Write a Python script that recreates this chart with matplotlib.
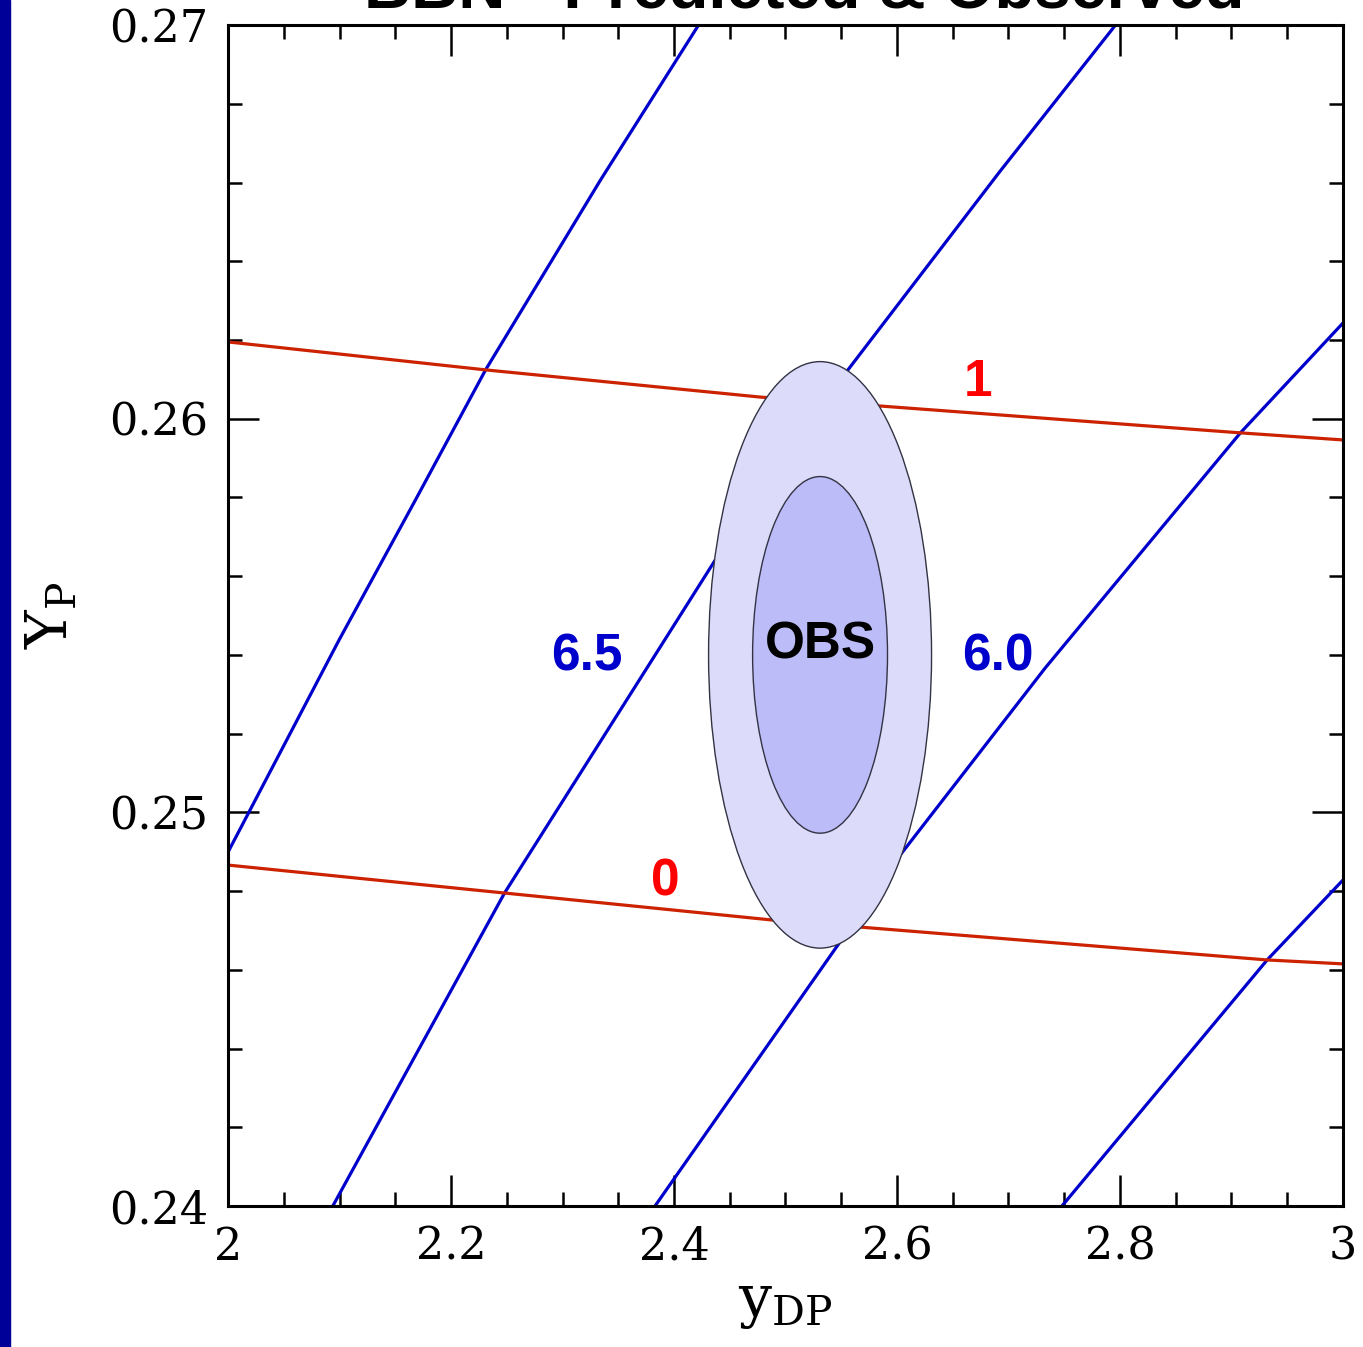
import matplotlib.pyplot as plt
from matplotlib.patches import Ellipse, Rectangle
from matplotlib.ticker import MultipleLocator

plt.rcParams['mathtext.fontset'] = 'custom'
plt.rcParams['mathtext.rm'] = 'DejaVu Serif'

# eta_10 curves (blue)
eta65_a_x = [2.000, 2.100, 2.168, 2.231, 2.334, 2.422]
eta65_a_y = [0.24899, 0.25440, 0.25793, 0.26124, 0.26606, 0.27000]
eta65_x = [2.094, 2.248, 2.437, 2.556, 2.692, 2.796]
eta65_y = [0.24000, 0.24795, 0.25641, 0.26124, 0.26627, 0.27000]
eta60_x = [2.383, 2.547, 2.603, 2.733, 2.908, 3.000]
eta60_y = [0.24000, 0.24663, 0.24892, 0.25367, 0.25964, 0.26243]
eta60_b_x = [2.748, 2.932, 3.000]
eta60_b_y = [0.24000, 0.24625, 0.24828]

# Delta N_nu curves (red)
dn1_x = [2.000, 2.231, 2.477, 2.908, 3.000]
dn1_y = [0.26195, 0.26124, 0.26055, 0.25964, 0.25946]
dn0_x = [2.000, 2.248, 2.486, 2.932, 3.000]
dn0_y = [0.24866, 0.24795, 0.24727, 0.24625, 0.24615]

# observed region
obs_x, obs_y = 2.531, 0.2540
obs_w = [0.200, 0.121]
obs_h = [0.0149, 0.00906]

fig = plt.figure(figsize=(13.63, 13.47), dpi=100)
fig.patches.append(Rectangle((0, 0), 10 / 1363, 1, transform=fig.transFigure,
                             color='#000099', zorder=0))
fig.text(0.59, 1 - 7 / 1347, 'BBN - Predicted & Observed', ha='center',
         va='baseline', fontsize=47, fontweight='bold', family='Liberation Sans')

ax = fig.add_axes([0.1673, 0.1047, 0.818, 0.8767])

blue = '#0000cc'
red = '#cc2200'
for xs, ys in [(eta65_a_x, eta65_a_y), (eta65_x, eta65_y),
               (eta60_x, eta60_y), (eta60_b_x, eta60_b_y)]:
    ax.plot(xs, ys, color=blue, lw=2.3, zorder=2)
for xs, ys in [(dn1_x, dn1_y), (dn0_x, dn0_y)]:
    ax.plot(xs, ys, color=red, lw=2.3, zorder=2)

ax.add_patch(Ellipse((obs_x, obs_y), obs_w[0], obs_h[0], facecolor='#dcdcfa',
                     edgecolor='#333344', lw=1.0, zorder=3))
ax.add_patch(Ellipse((obs_x, obs_y), obs_w[1], obs_h[1], facecolor='#bcbcf8',
                     edgecolor='#333344', lw=1.0, zorder=4))

lab = dict(family='Liberation Sans', fontweight='bold', fontsize=37,
           ha='center', va='center', zorder=5)
ax.text(2.322, 0.25395, '6.5', color=blue, **lab)
ax.text(2.6906, 0.25395, '6.0', color=blue, **lab)
ax.text(2.531, 0.25425, 'OBS', color='black', **lab)
ax.text(2.6726, 0.26091, '1', color='#ff0000', **lab)
ax.text(2.3919, 0.24823, '0', color='#ff0000', **lab)

ax.set_xlim(2, 3)
ax.set_ylim(0.24, 0.27)
ax.xaxis.set_minor_locator(MultipleLocator(0.05))
ax.yaxis.set_minor_locator(MultipleLocator(0.002))
ax.set_xticks([2, 2.2, 2.4, 2.6, 2.8, 3])
ax.set_xticklabels(['2', '2.2', '2.4', '2.6', '2.8', '3'])
ax.set_yticks([0.24, 0.25, 0.26, 0.27])
ax.set_yticklabels(['0.24', '0.25', '0.26', '0.27'])
ax.tick_params(which='both', direction='in', top=True, right=True, width=1.8)
ax.tick_params(which='major', length=22, pad=14)
ax.tick_params(which='minor', length=10)
for t in ax.get_xticklabels() + ax.get_yticklabels():
    t.set_family('DejaVu Serif')
    t.set_fontsize(32)
for s in ax.spines.values():
    s.set_linewidth(2.2)

ax.set_xlabel(r'$\mathrm{y}_{\mathrm{DP}}$', fontsize=42, labelpad=4)
ax.set_ylabel(r'$\mathrm{Y}_{\mathrm{P}}$', fontsize=42, labelpad=22)

fig.savefig('out.png', dpi=100)
